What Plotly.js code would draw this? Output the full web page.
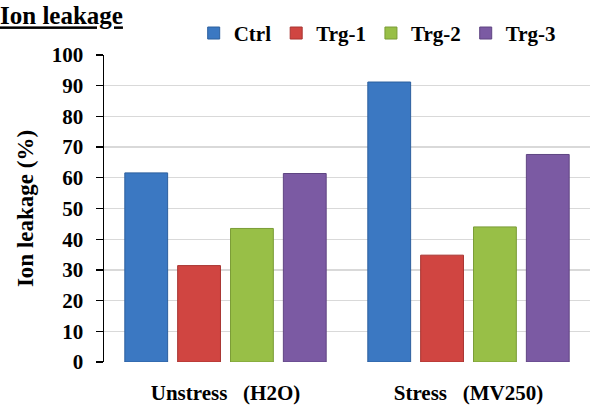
<!DOCTYPE html>
<html>
<head>
<meta charset="utf-8">
<script src="https://cdn.plot.ly/plotly-3.0.1.min.js"></script>
<style>
html,body{margin:0;padding:0;background:#fff;}
#chart{width:596px;height:407px;}
#chart text{font-family:"Liberation Serif","Times New Roman",serif !important;font-weight:bold !important;}
</style>
</head>
<body>
<div id="chart"></div>
<script>
var categories = ["Unstress\u00a0\u00a0\u00a0(H2O)", "Stress\u00a0\u00a0\u00a0(MV250)"];
var seriesNames = ["Ctrl", "Trg-1", "Trg-2", "Trg-3"];
var ctrl = [61.6, 91.2];
var trg1 = [31.4, 34.8];
var trg2 = [43.5, 44.0];
var trg3 = [61.4, 67.6];
var yTicks = [0, 10, 20, 30, 40, 50, 60, 70, 80, 90, 100];

var colors = ["#3b78c2", "#d04541", "#98bf47", "#7b5aa3"];
var edges = ["#2c5f9e", "#a83431", "#7a9c36", "#5f4582"];
var values = [ctrl, trg1, trg2, trg3];
var FONT = "Liberation Serif";
function b(s) { return "<b>" + s + "</b>"; }

var traces = values.map(function (v, i) {
  return {
    type: "bar",
    name: b(seriesNames[i]),
    x: categories,
    y: v,
    marker: { color: colors[i], line: { color: edges[i], width: 1 } },
    hoverinfo: "skip"
  };
});

var layout = {
  width: 596,
  height: 407,
  margin: { l: 104, r: 6, t: 55, b: 45 },
  paper_bgcolor: "#fff",
  plot_bgcolor: "#fff",
  barmode: "group",
  bargap: 0.13,
  bargroupgap: 0.19,
  font: { family: FONT, color: "#000", size: 20 },
  title: {
    text: "<b><u>Ion leakage</u></b>",
    font: { family: FONT, size: 25, color: "#000" },
    x: 0, xref: "container", xanchor: "left",
    y: 0.983, yref: "container", yanchor: "top",
    automargin: false
  },
  showlegend: true,
  legend: {
    orientation: "h",
    x: 0.325, xref: "container", xanchor: "left",
    y: 0.918, yref: "container", yanchor: "middle",
    font: { family: FONT, size: 21, color: "#000" },
    itemwidth: 30,
    traceorder: "normal",
    bgcolor: "rgba(0,0,0,0)"
  },
  xaxis: {
    type: "category",
    tickvals: categories,
    ticktext: categories.map(b),
    showline: false,
    showgrid: false,
    zeroline: false,
    ticks: "",
    ticklabelstandoff: 16,
    tickfont: { family: FONT, size: 21, color: "#000" }
  },
  yaxis: {
    range: [0, 100],
    tickvals: yTicks,
    ticktext: yTicks.map(function (t) { return b(String(t)); }),
    ticks: "outside",
    ticklen: 7,
    tickwidth: 1.3,
    tickcolor: "#000",
    showline: true,
    linecolor: "#000",
    linewidth: 1.5,
    showgrid: true,
    gridcolor: "#d9d9d9",
    gridwidth: 1.3,
    zeroline: false,
    ticklabelstandoff: 8,
    tickfont: { family: FONT, size: 21, color: "#000" },
    title: {
      text: "<b>Ion leakage (%)</b>",
      font: { family: FONT, size: 23, color: "#000" },
      standoff: 11
    }
  }
};

Plotly.newPlot("chart", traces, layout, { staticPlot: true, displayModeBar: false });
</script>
</body>
</html>
